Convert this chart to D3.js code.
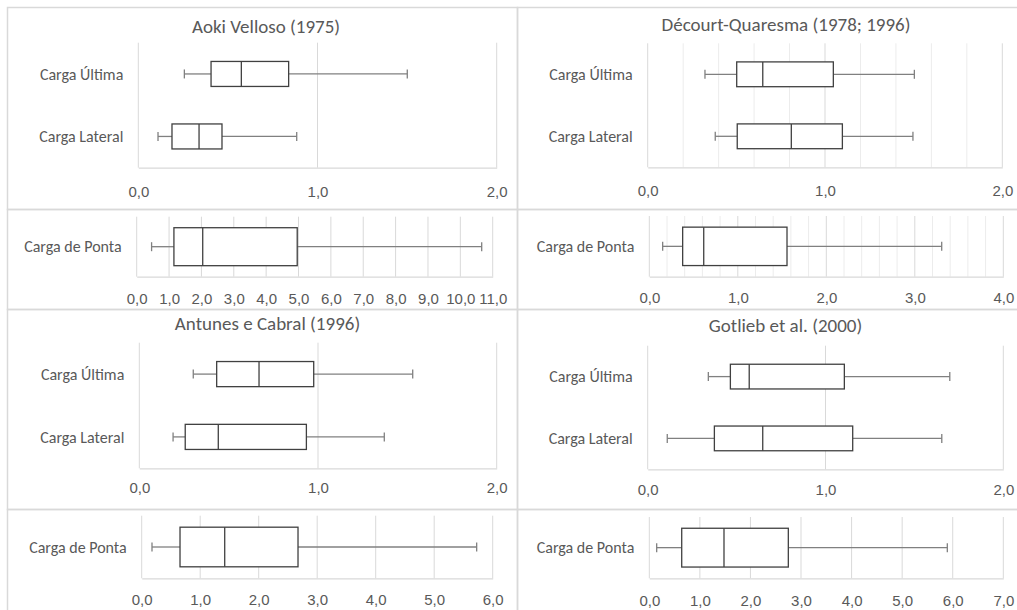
<!DOCTYPE html>
<html>
<head>
<meta charset="utf-8">
<script src="https://cdn.jsdelivr.net/npm/d3@7"></script>
<style>
  html, body { margin: 0; padding: 0; background: #fff; }
  svg { display: block; font-family: Carlito, Calibri, Lato, "Open Sans", sans-serif; }
</style>
</head>
<body>
<svg id="chart" width="1017" height="610"></svg>
<script>
// Method names (panel titles)
const methods = ["Aoki Velloso (1975)", "Décourt-Quaresma (1978; 1996)", "Antunes e Cabral (1996)", "Gotlieb et al. (2000)"];
// Categories of the upper charts and of the tip-load charts
const upperCategories = ["Carga Última", "Carga Lateral"];
const tipCategories = ["Carga de Ponta"];

// Box statistics per method: [min, Q1, median, Q3, max]
const cargaUltima = [
  [0.257, 0.406, 0.575, 0.839, 1.501],
  [0.323, 0.502, 0.649, 1.047, 1.504],
  [0.302, 0.433, 0.670, 0.976, 1.530],
  [0.341, 0.465, 0.571, 1.106, 1.699]
];
const cargaLateral = [
  [0.110, 0.188, 0.339, 0.467, 0.884],
  [0.381, 0.505, 0.810, 1.098, 1.496],
  [0.189, 0.257, 0.442, 0.935, 1.371],
  [0.110, 0.375, 0.647, 1.153, 1.654]
];
const cargaPonta = [
  [0.46, 1.15, 2.04, 4.96, 10.66],
  [0.151, 0.377, 0.615, 1.556, 3.304],
  [0.176, 0.655, 1.419, 2.672, 5.726],
  [0.146, 0.641, 1.477, 2.749, 5.893]
];

// Axis tick labels
const upperTicks = [0, 1, 2];
const tipTicks = [
  [0, 1, 2, 3, 4, 5, 6, 7, 8, 9, 10, 11],
  [0, 1, 2, 3, 4],
  [0, 1, 2, 3, 4, 5, 6],
  [0, 1, 2, 3, 4, 5, 6, 7]
];
// Gridline step for each method's charts (Décourt-Quaresma uses a fine grid)
const gridStep = [1, 0.2, 1, 1];

// ---- layout ----
const svg = d3.select("#chart");
const TEXT = "#595959", GRID = "#d9d9d9", MINOR = "#ececec", BOX = "#404040", WHISK = "#808080";
const fmt = v => d3.format(".1f")(v).replace(".", ",");

// Frames of the chart objects
const frames = svg.append("g").attr("fill", "none").attr("stroke", "#d9d9d9").attr("stroke-width", 1.5);
[[7.5, 7.5, 510, 202], [7.5, 209.5, 510, 100], [7.5, 309.5, 510, 200], [7.5, 509.5, 510, 120],
 [517.5, 7.5, 540, 202], [517.5, 209.5, 540, 100], [517.5, 309.5, 540, 200], [517.5, 509.5, 540, 120]]
  .forEach(([x, y, w, h]) => frames.append("rect").attr("x", x).attr("y", y).attr("width", w).attr("height", h));

// Plot geometry for each chart: method index, kind, plot box, title position, tick-label baseline
const charts = [
  { m: 0, kind: "upper", x0: 138.3, x1: 496.7, y0: 42.7, y1: 167.7, tx: 266, ty: 26.7, ly: 191.7 },
  { m: 0, kind: "tip",   x0: 136.7, x1: 492.7, y0: 216.7, y1: 276.7, ly: 299 },
  { m: 1, kind: "upper", x0: 647.7, x1: 1002.3, y0: 43.3, y1: 167.3, tx: 786, ty: 24, ly: 190.7 },
  { m: 1, kind: "tip",   x0: 649.3, x1: 1003.3, y0: 216, y1: 276.7, ly: 297.7 },
  { m: 2, kind: "upper", x0: 139.3, x1: 496.7, y0: 342.7, y1: 468.3, tx: 267.5, ty: 323.3, ly: 487.7 },
  { m: 3, kind: "upper", x0: 647.7, x1: 1003.3, y0: 345.7, y1: 469.3, tx: 785.5, ty: 325.7, ly: 489.3 },
  { m: 2, kind: "tip",   x0: 141.7, x1: 492.7, y0: 515.7, y1: 578.3, ly: 600 },
  { m: 3, kind: "tip",   x0: 649.3, x1: 1003.3, y0: 517, y1: 578.3, ly: 601 }
];

charts.forEach(c => {
  const g = svg.append("g");
  const ticks = c.kind === "upper" ? upperTicks : tipTicks[c.m];
  const cats = c.kind === "upper" ? upperCategories : tipCategories;
  const stats = c.kind === "upper" ? [cargaUltima[c.m], cargaLateral[c.m]] : [cargaPonta[c.m]];

  const x = d3.scaleLinear().domain([0, d3.max(ticks)]).range([c.x0, c.x1]);
  const y = d3.scaleBand().domain(cats).range([c.y0, c.y1])
    .paddingInner(c.kind === "upper" ? 0.6 : 0).paddingOuter(c.kind === "upper" ? 0.3 : 0.29);

  // vertical gridlines
  const step = gridStep[c.m];
  if (step < 1) {
    const minor = d3.range(0, d3.max(ticks) + 1e-9, step).filter(v => Math.abs(v - Math.round(v)) > 1e-6);
    g.append("g").selectAll("line").data(minor).join("line")
      .attr("x1", d => x(d)).attr("x2", d => x(d)).attr("y1", c.y0).attr("y2", c.y1)
      .attr("stroke", MINOR).attr("stroke-width", 1);
  }
  g.append("g").selectAll("line").data(ticks).join("line")
    .attr("x1", d => x(d)).attr("x2", d => x(d)).attr("y1", c.y0).attr("y2", c.y1)
    .attr("stroke", GRID).attr("stroke-width", 1);

  // horizontal axis with comma-decimal labels
  const axis = g.append("g").attr("transform", `translate(0,${c.y1})`)
    .call(d3.axisBottom(x).tickValues(ticks).tickSize(0).tickPadding(0).tickFormat(fmt));
  axis.select(".domain").attr("stroke", GRID).attr("stroke-width", 1.3);
  axis.selectAll("text").attr("y", c.ly - c.y1).attr("dy", "0.35em")
    .attr("fill", TEXT).style("font-size", "15px");

  // category labels
  g.append("g").selectAll("text").data(cats).join("text")
    .attr("x", c.x0 - 15).attr("y", d => y(d) + y.bandwidth() / 2).attr("dy", "0.35em")
    .attr("text-anchor", "end").attr("fill", TEXT).style("font-size", "16px").text(d => d);

  // boxes with whiskers
  const boxes = g.append("g").selectAll("g").data(stats.map((s, i) => ({ s, cat: cats[i] }))).join("g");
  boxes.each(function (d) {
    const b = d3.select(this);
    const [mn, q1, md, q3, mx] = d.s;
    const top = y(d.cat), h = y.bandwidth(), cy = top + h / 2;
    b.append("line").attr("x1", x(mn)).attr("x2", x(q1)).attr("y1", cy).attr("y2", cy).attr("stroke", WHISK).attr("stroke-width", 1.3);
    b.append("line").attr("x1", x(q3)).attr("x2", x(mx)).attr("y1", cy).attr("y2", cy).attr("stroke", WHISK).attr("stroke-width", 1.3);
    [mn, mx].forEach(v => b.append("line").attr("x1", x(v)).attr("x2", x(v)).attr("y1", cy - 4.5).attr("y2", cy + 4.5)
      .attr("stroke", WHISK).attr("stroke-width", 1.3));
    b.append("rect").attr("x", x(q1)).attr("y", top).attr("width", x(q3) - x(q1)).attr("height", h)
      .attr("fill", "#fff").attr("stroke", BOX).attr("stroke-width", 1.3);
    b.append("line").attr("x1", x(md)).attr("x2", x(md)).attr("y1", top).attr("y2", top + h)
      .attr("stroke", BOX).attr("stroke-width", 1.3);
  });

  // title
  if (c.kind === "upper") {
    svg.append("text").attr("x", c.tx).attr("y", c.ty).attr("dy", "0.35em").attr("text-anchor", "middle")
      .attr("fill", TEXT).style("font-size", "19px").text(methods[c.m]);
  }
});
</script>
</body>
</html>
